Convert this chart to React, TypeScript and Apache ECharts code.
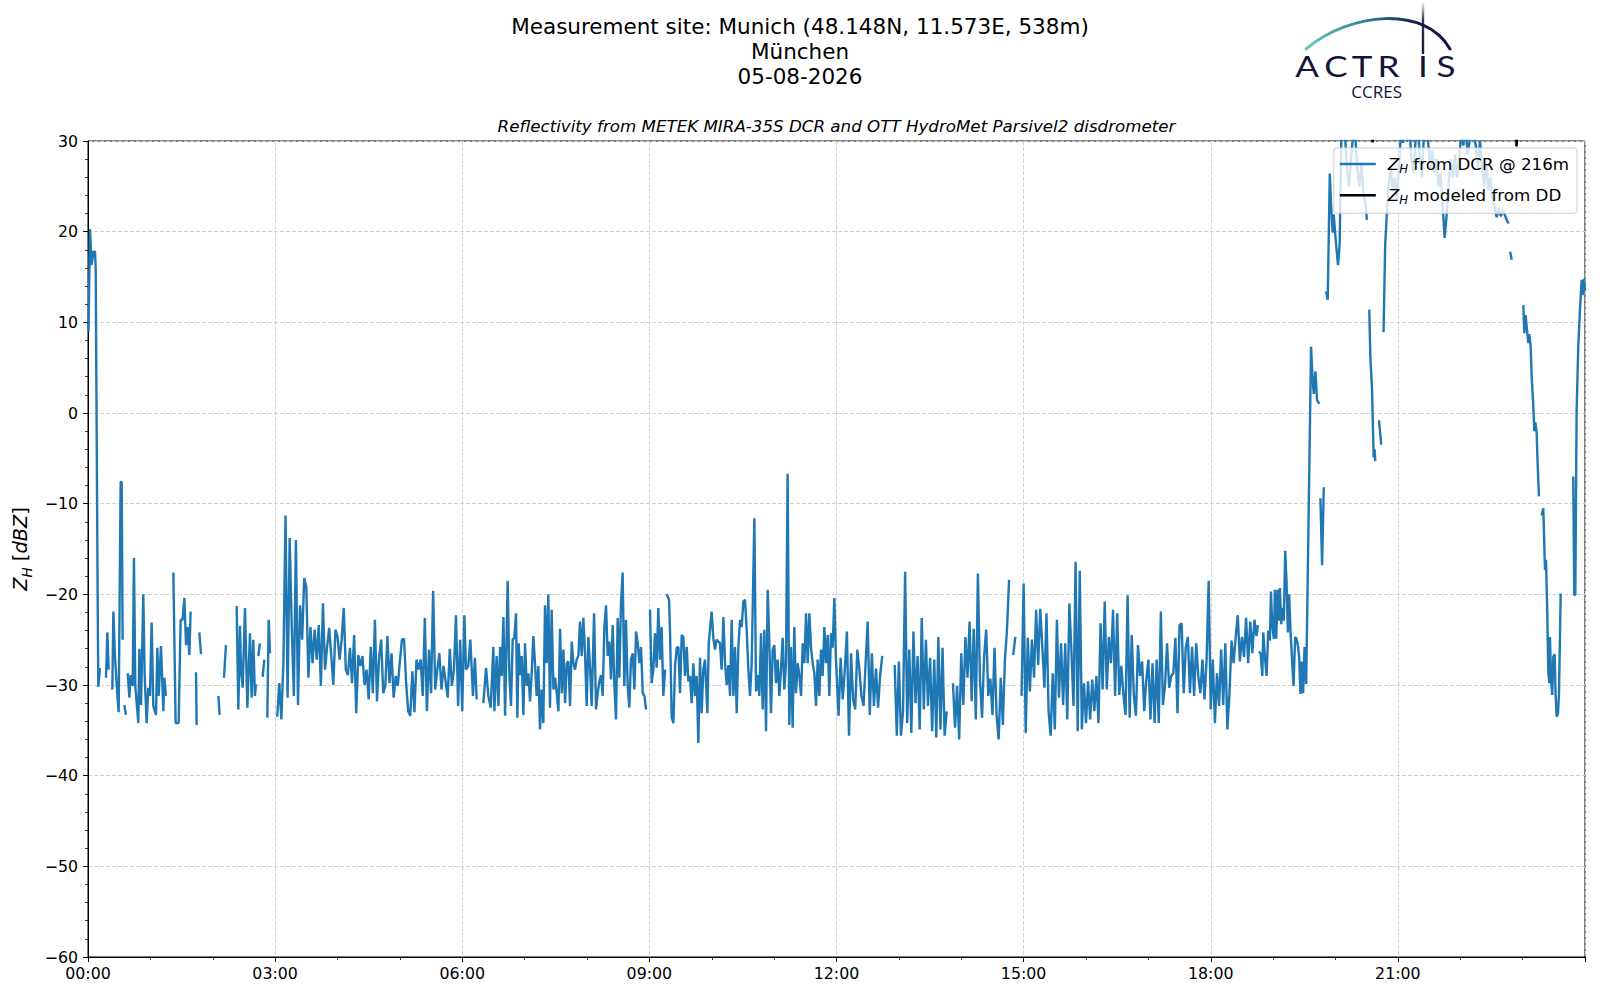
import React, { useEffect, useRef } from 'react';
import * as echarts from 'echarts';

type P = [number, number | null];

const TITLE_LINES = ['Measurement site: Munich (48.148N, 11.573E, 538m)', 'München', '05-08-2026'];
const SUBTITLE = 'Reflectivity from METEK MIRA-35S DCR and OTT HydroMet Parsivel2 disdrometer';
const NAME_DCR = 'Z_H from DCR @ 216m';
const NAME_DD = 'Z_H modeled from DD';
const X_MIN = 0;
const X_MAX = 1440;
const X_STEP = 180;
const Y_MIN = -60;
const Y_MAX = 30;
const Y_STEP = 10;
const GRID_STEP = 2;

// [minute of day, dBZ]; null marks a data gap
const ZH_0000: P[] = [
  [0.5, 9], [1.9, 20.3], [3.5, 16.3], [5.1, 17.8], [6.7, 17.8], [7.4, 16], [8.3, -1.5], [9.3, -20.5], [9.9, -30.2], [11.5, -28.1], [13, null],
  [17.3, -29.2], [18.6, -24.2], [19.9, -28.3], [21, null],
  [23.4, -30.5], [24.4, -21.9], [26, -27], [28.2, -31], [29.5, -33], [31.4, -7.6], [32.4, -7.6], [33.3, -25], [34, null],
  [35, -32.2], [36.5, -33.3], [37.3, null],
  [38.2, -28.7], [39.8, -31.4], [41, -28.9], [43, -30.1], [44.2, -16], [45.5, -30.1], [48.4, -34.2], [49.4, -26], [51, -32.2], [53.2, -20],
  [54.5, -28.9], [56.4, -34.2], [58, -30.3], [59.6, -31.2], [61.2, -23.1], [62.8, -32.3], [65.4, -33.3], [66.7, -25.9], [68, -31.2],
  [70.2, -25.7], [72.5, -32.9], [73.4, -29.2], [75, -31.2], [76, null],
  [82.1, -17.6], [84.3, -34.2], [87.2, -34.2], [89.1, -22.8], [91, -22.8], [92.7, -20.4], [94.3, -25.6], [95.9, -23.6], [97.5, -26.7], [98.7, -21.9], [100, null],
  [103.9, -28.6], [104.5, -34.4], [105.5, null],
  [107.1, -24.2], [108.7, -26.6], [110, null],
  [125.4, -31.2], [126.6, -33.3], [128, null],
  [130.8, -29.2], [132.7, -25.6], [134, null],
  [143, -21.3], [144.6, -32.7], [146.2, -23.5], [147.2, -28.4], [148.8, -30.3], [151, -21.5], [153.3, -32.5], [155.8, -24.3], [157.4, -31.4],
  [159, -25], [160.6, -31.2], [161.6, -29.9], [162.5, null],
  [163.8, -26.8], [165.4, -25.4], [166.5, null],
  [168, -29.1], [169.6, -27.2], [170.5, null],
  [172.5, -33.6], [173.8, -22.8], [175.1, -26.5], [176, null],
];

// 2-minute samples starting at 03:02
const ZH_0300_START = 182;
const ZH_0300: (number | null)[] = [
  -33.5, -29.8, -33.8, -27.3, -11.3, -31.4, -13.8, -23.6, -31.2, -14,
  -32.2, -21.2, -25, -18.2, -19.2, -29.2, -23.6, -27.6, -23.9, -27.2,
  -23.4, -30.1, -21, -28.3, -25.8, -23.7, -26.8, -30, -23.9, -24.7,
  -27.2, -25, -21.5, -28.3, -28.9, -25.9, -29.8, -24.5, -33.1, -26.7,
  -27.9, -26.8, -30, -28.3, -31.6, -25.8, -30.9, -22.8, -31.8, -27,
  -25, -30.9, -30.1, -24.6, -29.8, -26.5, -31.4, -29, -30.1, -27.4,
  -25, -24.9, -29.8, -32.9, -33.4, -28.5, -33, -27.2, -28.3, -27.2,
  -31.2, -22.6, -32.9, -26.1, -30.9, -19.6, -30.5, -28.3, -26.5, -30.5,
  -27.9, -29.6, -31.4, -26, -30.1, -28.3, -22.3, -32.3, -25, -32.9,
];

const ZH_0600: P[] = [
  [362, -22.3], [363.6, -28.3], [365.8, -27.9], [367.8, -25], [370.3, -31.2], [372.2, -27], [373.9, -31.6], [375, null],
  [380.3, -32], [382.9, -28.1], [385.1, -31.2], [387.4, -32.5], [389.9, -25.8], [390.9, -32.9], [393.1, -26.8], [394.8, -32.3], [396.4, -25.8],
  [398, -29], [399.6, -22.5], [401.2, -33.4], [403.7, -18.5], [405.3, -28.9], [406.9, -32.3], [408.5, -25], [410.1, -24.8], [411.7, -22.1],
  [413, -33.6], [414.3, -25.4], [415.6, -28.9], [417.2, -26.8], [418.8, -33.3], [420.4, -25.4], [422, -30.1], [423.6, -28.7], [425.2, -31.8],
  [426.8, -28.7], [428.4, -24.6], [430, -27.6], [431.6, -31.2], [433.2, -27.9], [434.8, -34.9], [436.4, -30.5], [438, -34.2], [439.6, -21.2],
  [441.2, -27.6], [442.8, -20], [444.4, -32.5], [446, -21.7], [447.7, -30.5], [449.3, -29.2], [450.9, -30.9], [452.5, -32.9], [454.1, -23.8],
  [455.7, -30.9], [457.3, -26.1], [458.9, -32], [460.5, -27.6], [462.1, -27.4], [463.7, -32.3], [465.3, -25.2], [466.9, -27.6], [468.5, -28.3],
  [470.1, -27.2], [471.7, -26.8], [473.3, -23], [474.9, -26.8], [476.5, -22.6], [478.1, -26.5], [479.7, -32.3], [481.3, -24.7], [482.9, -28.1],
  [484.5, -32.3], [486.8, -22.1], [488.7, -32.7], [490.3, -30.9], [491.9, -29.6], [493.5, -28.9], [495.1, -31.2], [496.7, -23.7], [498.3, -21.2],
  [499.9, -26.8], [501.5, -25.2], [503.1, -29.4], [504.7, -23.4], [506.3, -29.8], [507.9, -33.8], [509.5, -22.6], [511.1, -29.2], [512.7, -21],
  [514.3, -17.6], [515.9, -30.1], [517.5, -22.8], [519.1, -30.1], [520.7, -32.5], [522.3, -27.2], [524, -26.5], [525.6, -30.5], [527.2, -24.1],
  [528.8, -25.4], [530.4, -27.6], [532, -25.8], [533.6, -30.9], [535.2, -31.2], [536.8, -32.7], [538, null],
];

const ZH_0900: P[] = [
  [540.6, -21.7], [542.2, -29.8], [543.8, -28.3], [545.4, -24.3], [547, -28.1], [548.6, -21.5], [550.2, -27.2], [551.8, -23.6], [553.4, -31.2],
  [555.1, -28.3], [555.8, null],
  [556.6, -20], [558.9, -20.6], [559.9, -24.3], [561.5, -33.6], [563.1, -34.2], [564.7, -27.9], [566.3, -25.9], [567.9, -25.8], [569.5, -30.9],
  [571.1, -24.5], [572.7, -24.7], [574.3, -29], [575.9, -25.8], [577.5, -29.6], [579.1, -29], [580.7, -32], [582.3, -27.6], [583.9, -31.2],
  [585.5, -29], [587.1, -36.4], [588.7, -27], [590.3, -33.1], [591.9, -28.3], [593.5, -27.2], [595.8, -33.1], [597.1, -25.4], [598.3, -23.9],
  [599.9, -21.9], [601.5, -24.8], [603.1, -26.1], [604.7, -25], [606.3, -25.2], [607.9, -25.4], [609.5, -28.3], [611.2, -22.5], [612.8, -27.6],
  [614.4, -30], [616, -27.8], [617.6, -31.2], [619.2, -22.8], [620.8, -31.2], [622.4, -25.8], [624, -33.1], [625.6, -25.8], [627.2, -22.8],
  [628.8, -23.6], [630.4, -20.8], [632, -20.6], [633.6, -23.9], [635.2, -28.3], [636.8, -31.2], [638.4, -27.6], [641, -11.6], [642.6, -30.7],
  [644.2, -28.9], [645.8, -31.2], [647.4, -24.3], [649, -32.7], [650.6, -23.9], [652.2, -35.1], [653.8, -19.5], [655.4, -25.4], [657, -33.1],
  [658.6, -26.1], [660.2, -25.6], [661.8, -29.8], [663.4, -27.2], [665, -31.2], [666.6, -28.3], [668.2, -24.8], [669.8, -30.5], [671.4, -27.6],
  [673, -6.7], [674.6, -34.4], [676.2, -25.8], [677.8, -34.7], [679.4, -23.6], [681, -30.9], [682.7, -27.6], [684.3, -29], [685.9, -31.2],
  [687.5, -25.4], [689.1, -27.6], [690.7, -22.1], [692.3, -27.6], [693.9, -22.1], [695.5, -25.9], [697.1, -27.6], [698.7, -28.7], [700.3, -32.3],
  [701.9, -27.2], [703.5, -31.2], [705.1, -26.1], [706.7, -29], [708.3, -23.6], [709.9, -27.6], [711.5, -24.5], [713.1, -31.2], [714.7, -24.3],
  [716.3, -25.9], [717.9, -20.4], [719.5, -27.2],
];

// 2-minute samples starting at 12:02
const ZH_1200_START = 722;
const ZH_1200: (number | null)[] = [
  -33.4, -27, -31.6, -28.3, -24.1, -35.6, -26.5, -31.6, -32.7, -26.1, -28.3, -31.2, -32.3, -27.6, -23, -33.3, -26.5, -32.3, -28.2, -32.5, -28.9, -26.8,
  null, null, null, null, null,
  -27.8, -35.6, -27.4, -35.6, -32.9, -17.5, -34.2, -26.1, -35.3, -24.1, -32, -26.8, -34.9, -22.6, -32.7, -25, -32.3, -27, -35.1, -27.2, -35.8, -24.7, -34.9, -25.9, -35.6, -32.9,
  null, null,
  -29.8, -34.7, -30.1, -36, -26.5, -32.2, -24.7, -29.2, -23, -31.8, -23.8, -33.8, -17.7, -29.4, -33.6, -26.8, -23.9, -31.2, -29.3, -33.3, -25.9, -33.4, -36, -29.2, -34.4, -27.2, -23.9, -18.4,
  null, -26.7, -24.7, null, null, -31.2, -18.8,
];

// 2-minute samples starting at 15:02
const ZH_1500_START = 902;
const ZH_1500: (number | null)[] = [
  -35.3, -24.8, -30.7, -25, -29.2, -21.7, -27.8, -21.6, -25.8, -30.3,
  -22.1, -32.9, -35.6, -28.7, -34.9, -22.8, -31.4, -25.4, -32.2, -25.4,
  -33.8, -21, -26.3, -32.3, -16.4, -35.1, -17.4, -34.9, -29.8, -34.2,
  -29.6, -33.8, -29.4, -32.9, -29, -34.2, -23.2, -30.5, -20.8, -30.5,
  -24.7, -27.6, -21.7, -31.2, -22.1, -31.1, -27.9, -31.1, -33.3, -20.1,
  -33.6, -24.5, -31.1, -33.4, -25.6, -29, -27.4, -32.9, -29.4, -27.2,
  -33.8, -27.6, -34.2, -27.2, -34.2, -21.9, -32.2, -30.1, -25.4, -30.3,
  -29, -28.7, -24.8, -33.1, -23.4, -23.2, -30.9, -25.8, -24.7, -30.9,
  -25.8, -31.2, -25.4, -29, -30.9, -27.2, -31.6, -27.2, -18.5, -32.7,
];

const ZH_1800: P[] = [
  [1082, -27.2], [1084, -34.2], [1086, -28.7], [1088, -32.3], [1090, -26.1], [1092, -32.2], [1094, -25.4], [1096, -34.9], [1098, -30.9],
  [1100, -25.1], [1102, -27.6], [1104, -24.7], [1106, -22.3], [1108, -27.4], [1110, -24.7], [1112, -26.9], [1114, -22.6], [1116, -27.6],
  [1118, -23], [1120, -26.5], [1122, -22.8], [1124, -24.6], [1125.4, -23.4], [1126, null],
  [1126.4, -26.3], [1128, -26.5], [1129.6, -29], [1130.5, -24.2], [1132.1, -26.9], [1133.7, -29], [1135.3, -24], [1136.9, -25.1],
  [1137.9, -19.7], [1139.1, -23.3], [1140.7, -24.9], [1141.7, -19.5], [1143, -24.9], [1144.3, -19.5], [1145.5, -22.9], [1146.5, -19.3],
  [1147.8, -23.3], [1149, -21.5], [1150.3, -22.9], [1151.6, -15.2], [1152.9, -18.6], [1154.2, -24.2], [1155.4, -20], [1156.7, -24],
  [1158.3, -27.4], [1159.6, -30.1], [1161.2, -24.7], [1162.5, -24.9], [1163.8, -25.6], [1165, -26.9], [1166.3, -31], [1167.6, -27.4],
  [1168.9, -30.9], [1170.2, -25.8], [1171.8, -29.9], [1176.5, 7.3], [1177.8, 4.1], [1179.1, 2.1], [1180.7, 4.6], [1182.3, 1.4], [1184.5, 1], [1185, null],
  [1185.5, -9.4], [1187.1, -16.8], [1188.7, -8.2], [1189.5, null],
  [1190.9, 13.4], [1192.5, 12.5], [1194.5, 26.4], [1195.7, 23.1], [1197.3, 19.9], [1198.3, 21.9], [1199.9, 19.5], [1202.4, 16.3], [1204, 18.6],
  [1205.6, 30.3], [1207, 32], [1209, 31], [1211, 27], [1213, 25], [1215, 28], [1217, 31], [1219, 30.5], [1221, 27], [1223, 25], [1225, 27.5],
  [1227, 24], [1229, 23], [1230.2, 21.3], [1231, null],
  [1232.5, 11.4], [1233.5, 6.2], [1235.1, 2.8], [1236.7, -4.9], [1237.6, -4], [1238.3, -5.3], [1240, null],
  [1241.8, -0.8], [1244, -3.5], [1245, null],
  [1246.2, 8.9], [1247.8, 18.6], [1249.4, 22],
];

const ZH_2100: P[] = [
  [1251, 25], [1253, 27], [1255, 24.5], [1257, 26], [1259, 23.5], [1261, 27], [1263, 31], [1265, 29.8], [1267, 33], [1269, 30], [1271, 32],
  [1273, 28], [1275, 26.5], [1277, 30], [1279, 32], [1281, 28.5], [1283, 26], [1285, 30.5], [1287, 33], [1289, 30], [1291, 27], [1293, 29],
  [1295, 26.5], [1297, 28], [1299, 25], [1301, 26.5], [1303, 23], [1305, 19.3], [1307, 22], [1309, 25.5], [1311, 28], [1313, 26], [1315, 28.5],
  [1317, 26], [1319, 28], [1321, 31], [1323, 29.5], [1325, 32], [1327, 28.5], [1329, 30], [1331, 33], [1333, 30.5], [1335, 29.5], [1337, 27],
  [1339, 30], [1341, 27], [1343, 25], [1345, 27.5], [1347, 24.5], [1349, 26], [1351, 23.5], [1353, 22.8], [1355, 21.6], [1357, 22.6],
  [1359, 21.7], [1361, 22.4], [1363, 21.8], [1365, 21.2], [1366.5, 20.9], [1367, null],
  [1368, 17.8], [1369.5, 16.9], [1370, null],
  [1380.7, 11.9], [1381.6, 8.8], [1382.9, 10.8], [1384.5, 8.8], [1385.5, 7.7], [1386.4, 8.7], [1387.7, 7.4], [1388.7, 4], [1390.3, 0.7],
  [1391.2, -2], [1392.2, -1], [1393.5, -2.2], [1394.4, -5.5], [1395.7, -9.2], [1396.5, null],
  [1398.3, -11.3], [1399.9, -10.5], [1401.5, -17.3], [1402.5, -16.2], [1403.7, -22], [1404.7, -28.6], [1405.7, -29.8], [1406.3, -24.7],
  [1407.3, -29.4], [1408.5, -31.1], [1409.5, -26.9], [1410.8, -26.6], [1411.7, -31], [1412.7, -33.5], [1414, -33.1], [1415, -31], [1416.6, -19.9], [1420, null],
  [1428.7, -7], [1429.7, -20.1], [1430.7, -20], [1431.9, 0], [1433.5, 7.3], [1435.2, 11.4], [1436.8, 14.7], [1437.7, 13], [1439, 14.8], [1440, 13.5],
];

const DD_MODEL: P[] = [
  [1234.9, 31], [1235.7, 29.85], [1236.5, 31], [1237, null],
  [1372.8, 33], [1374.2, 29.4], [1375.6, 33],
];

const FONT = 'DejaVu Sans';
const NAVY = '#11153a';

function gridPairs(start: number, vals: (number | null)[]): P[] {
  return vals.map((v, i) => [start + i * GRID_STEP, v] as P);
}

function toSeries(pairs: P[]) {
  return pairs.map(([t, v]) => [t, v == null ? '-' : v]);
}

function fmtTime(m: number): string {
  if (m >= X_MAX) return '';
  const h = Math.floor(m / 60);
  const mm = Math.round(m % 60);
  return String(h).padStart(2, '0') + ':' + String(mm).padStart(2, '0');
}

function fmtY(v: number): string {
  return v < 0 ? '\u2212' + String(-v) : String(v);
}

function legendLabel(name: string): string {
  return '{sp| }{z|Z}{h|H}{t|' + name.slice(3) + '}';
}

export default function App() {
  const ref = useRef<HTMLDivElement | null>(null);

  useEffect(() => {
    if (!ref.current) return;
    const chart = echarts.init(ref.current, null, { renderer: 'svg' });

    const dcr = toSeries([
      ...ZH_0000,
      ...gridPairs(ZH_0300_START, ZH_0300),
      ...ZH_0600,
      ...ZH_0900,
      ...gridPairs(ZH_1200_START, ZH_1200),
      ...gridPairs(ZH_1500_START, ZH_1500),
      ...ZH_1800,
      ...ZH_2100,
    ]);
    const dd = toSeries(DD_MODEL);

    const arcGrad = new echarts.graphic.LinearGradient(1306, 0, 1450, 0, [
      { offset: 0, color: '#6fc7c1' },
      { offset: 0.45, color: '#2b7890' },
      { offset: 0.75, color: '#172050' },
      { offset: 1, color: '#10143a' },
    ], true);
    const lineGrad = new echarts.graphic.LinearGradient(0, 1, 0, 54, [
      { offset: 0, color: 'rgba(17,21,58,0)' },
      { offset: 0.35, color: 'rgba(17,21,58,0.85)' },
      { offset: 1, color: NAVY },
    ], true);

    const letters = [
      { c: 'A', x: 1307 },
      { c: 'C', x: 1336 },
      { c: 'T', x: 1362 },
      { c: 'R', x: 1388.5 },
      { c: 'I', x: 1423 },
      { c: 'S', x: 1446 },
    ];

    const titleY = [26.2, 51.4, 76.6];

    const graphic: any[] = [
      ...TITLE_LINES.map((t, i) => ({
        type: 'text',
        x: 800,
        y: titleY[i],
        style: { text: t, fill: '#000', fontSize: 21.5, fontFamily: FONT, align: 'center', verticalAlign: 'middle' },
      })),
      {
        type: 'text',
        x: 836.5,
        y: 125.6,
        style: { text: SUBTITLE, fill: '#000', fontSize: 16.7, fontStyle: 'italic', fontFamily: FONT, align: 'center', verticalAlign: 'middle' },
      },
      {
        type: 'bezierCurve',
        shape: { x1: 1306, y1: 49, cpx1: 1350, cpy1: 12, cpx2: 1425, cpy2: 5, x2: 1450, y2: 49 },
        style: { stroke: arcGrad, lineWidth: 3, fill: 'none', lineCap: 'round' },
      },
      {
        type: 'line',
        shape: { x1: 1423, y1: 1, x2: 1423, y2: 54 },
        style: { stroke: lineGrad, lineWidth: 2.4 },
      },
      ...letters.map((l) => ({
        type: 'text',
        x: l.x,
        y: 66.5,
        scaleX: 1.25,
        style: { text: l.c, fill: NAVY, fontSize: 28, fontFamily: 'Lato', align: 'center', verticalAlign: 'middle' },
      })),
      {
        type: 'text',
        x: 1376.7,
        y: 91.8,
        style: { text: 'CCRES', fill: NAVY, fontSize: 17, fontFamily: 'Open Sans', align: 'center', verticalAlign: 'middle' },
      },
    ];

    const axisLabelBase = { color: '#000', fontSize: 15.8, fontFamily: FONT };

    const option: any = {
      animation: false,
      backgroundColor: '#ffffff',
      grid: {
        left: 88, top: 141, right: 15, bottom: 43,
        show: true, borderColor: '#000', borderWidth: 1, backgroundColor: 'transparent',
        containLabel: false, outerBoundsMode: 'none',
      },
      xAxis: {
        type: 'value', min: X_MIN, max: X_MAX, interval: X_STEP,
        axisLine: { show: true, onZero: false, lineStyle: { color: '#000', width: 1 } },
        axisTick: { show: true, length: 5, lineStyle: { color: '#000', width: 1 } },
        minorTick: { show: true, splitNumber: 3, length: 3, lineStyle: { color: '#000', width: 0.8 } },
        splitLine: { show: true, lineStyle: { color: '#d3d3d3', width: 1, type: [4, 2] } },
        minorSplitLine: { show: false },
        axisLabel: { ...axisLabelBase, margin: 8, formatter: fmtTime, showMaxLabel: false },
      },
      yAxis: {
        type: 'value', min: Y_MIN, max: Y_MAX, interval: Y_STEP,
        axisLine: { show: true, onZero: false, lineStyle: { color: '#000', width: 1 } },
        axisTick: { show: true, length: 5, lineStyle: { color: '#000', width: 1 } },
        minorTick: { show: true, splitNumber: 5, length: 3, lineStyle: { color: '#000', width: 0.8 } },
        splitLine: { show: true, lineStyle: { color: '#d3d3d3', width: 1, type: [4, 2] } },
        axisLabel: { ...axisLabelBase, margin: 10, formatter: fmtY },
        name: '{z|Z}{h|H}{t| [}{i|dBZ}{t|]}',
        nameLocation: 'middle',
        nameRotate: 90,
        nameGap: 50,
        nameTextStyle: {
          color: '#000', fontSize: 19.4, fontFamily: FONT, lineHeight: 26,
          rich: {
            z: { fontStyle: 'italic', fontSize: 19.4, lineHeight: 26, fontFamily: FONT, color: '#000' },
            h: { fontStyle: 'italic', fontSize: 13.6, lineHeight: 14, verticalAlign: 'bottom', fontFamily: FONT, color: '#000' },
            t: { fontSize: 19.4, lineHeight: 26, fontFamily: FONT, color: '#000' },
            i: { fontStyle: 'italic', fontSize: 19.4, lineHeight: 26, fontFamily: FONT, color: '#000' },
          },
        },
      },
      legend: {
        show: true,
        orient: 'vertical',
        right: 23,
        top: 148,
        data: [NAME_DCR, NAME_DD],
        icon: 'rect',
        itemWidth: 36,
        itemHeight: 2.4,
        itemGap: 9.3,
        padding: [5, 8, 7, 6],
        backgroundColor: 'rgba(255,255,255,0.8)',
        borderColor: '#cccccc',
        borderWidth: 1,
        borderRadius: 3,
        selectedMode: false,
        formatter: legendLabel,
        textStyle: {
          color: '#000', fontSize: 16.7, fontFamily: FONT, lineHeight: 22,
          rich: {
            sp: { width: 7, fontSize: 16.7, lineHeight: 22 },
            z: { fontStyle: 'italic', fontSize: 16.7, lineHeight: 22, fontFamily: FONT, color: '#000' },
            h: { fontStyle: 'italic', fontSize: 11.7, lineHeight: 12, verticalAlign: 'bottom', fontFamily: FONT, color: '#000' },
            t: { fontSize: 16.7, lineHeight: 22, fontFamily: FONT, color: '#000' },
          },
        },
      },
      series: [
        {
          name: NAME_DCR,
          type: 'line',
          data: dcr,
          showSymbol: false,
          symbol: 'none',
          connectNulls: false,
          clip: true,
          color: '#1f77b4',
          itemStyle: { color: '#1f77b4' },
          lineStyle: { color: '#1f77b4', width: 2.4 },
          emphasis: { disabled: true },
          z: 2,
        },
        {
          name: NAME_DD,
          type: 'line',
          data: dd,
          showSymbol: false,
          symbol: 'none',
          connectNulls: false,
          clip: true,
          color: '#000000',
          itemStyle: { color: '#000000' },
          lineStyle: { color: '#000000', width: 2.4 },
          emphasis: { disabled: true },
          z: 3,
        },
      ],
      graphic,
    };

    chart.setOption(option);
    return () => {
      chart.dispose();
    };
  }, []);

  return (
    <div
      ref={ref}
      style={{ position: 'absolute', left: 0, top: 0, width: 1600, height: 1000, background: '#fff' }}
    />
  );
}
